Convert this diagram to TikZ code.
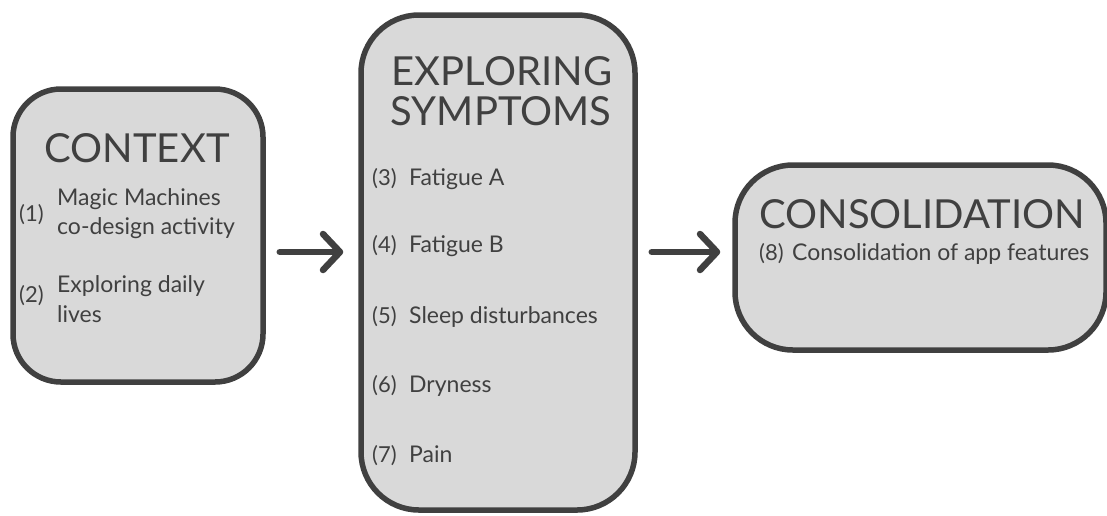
\documentclass[tikz,border=0pt]{standalone}
\usepackage{fontspec}
\setmainfont{Lato}
\usetikzlibrary{arrows.meta}
\definecolor{boxfill}{HTML}{D9D9D9}
\definecolor{ink}{HTML}{404040}
\tikzset{
  stage/.style={draw=ink, fill=boxfill, line width=5.5pt, rounded corners=#1, inner sep=0pt},
  title/.style={text=ink, font=\fontsize{40}{40}\selectfont, anchor=base, inner sep=0pt},
  num/.style={text=ink, font=\fontsize{22}{28}\selectfont, anchor=base west, inner sep=0pt},
  item/.style={text=ink, font=\fontsize{23}{29}\selectfont, anchor=base west, inner sep=0pt, align=left},
  flow/.style={draw=ink, line width=6.5pt, line cap=round,
    -{Straight Barb[length=17pt,width=36pt,round]}}
}
\begin{document}
\begin{tikzpicture}[x=1pt,y=-1pt]
\useasboundingbox (0,0) rectangle (1107,515);
% boxes
\node[stage=48pt, minimum width=250pt, minimum height=293pt] (ctx) at (138,235.5) {};
\node[stage=58pt, minimum width=274pt, minimum height=495pt] (exp) at (498,262.5) {};
\node[stage=58pt, minimum width=371pt, minimum height=185pt] (con) at (920.5,257.5) {};
% titles
\node[title] (ctxt) at (137,162) {CONTEXT};
\node[title] (expt1) at (502,85) {EXPLORING};
\node[title] (expt2) at (501,125) {SYMPTOMS};
\node[title] (cont) at (922,228) {CONSOLIDATION};
% context items
\node[num] (n1) at (19,221) {(1)};
\node[item] (i1a) at (57,205) {Magic Machines};
\node[item] (i1b) at (57,234) {co-design activity};
\node[num] (n2) at (19,302) {(2)};
\node[item] (i2a) at (57,292) {Exploring daily};
\node[item] (i2b) at (57,322) {lives};
% symptoms
\node[num] (n3) at (372,185) {(3)};
\node[item] (i3) at (409,185) {Fatigue A};
\node[num] (n4) at (372,252) {(4)};
\node[item] (i4) at (409,252) {Fatigue B};
\node[num] (n5) at (372,323) {(5)};
\node[item] (i5) at (409,323) {Sleep disturbances};
\node[num] (n6) at (372,392) {(6)};
\node[item] (i6) at (409,392) {Dryness};
\node[num] (n7) at (372,462) {(7)};
\node[item] (i7) at (409,462) {Pain};
% consolidation
\node[num] (n8) at (759,260) {(8)};
\node[item] (i8) at (792,260) {Consolidation of app features};
% arrows
\draw[flow, shorten <=14pt, shorten >=15pt] (ctx.east |- 0,252) -- (exp.west |- 0,252);
\draw[flow, shorten <=14pt, shorten >=12pt] (exp.east |- 0,252) -- (con.west |- 0,252);
\end{tikzpicture}
\end{document}
